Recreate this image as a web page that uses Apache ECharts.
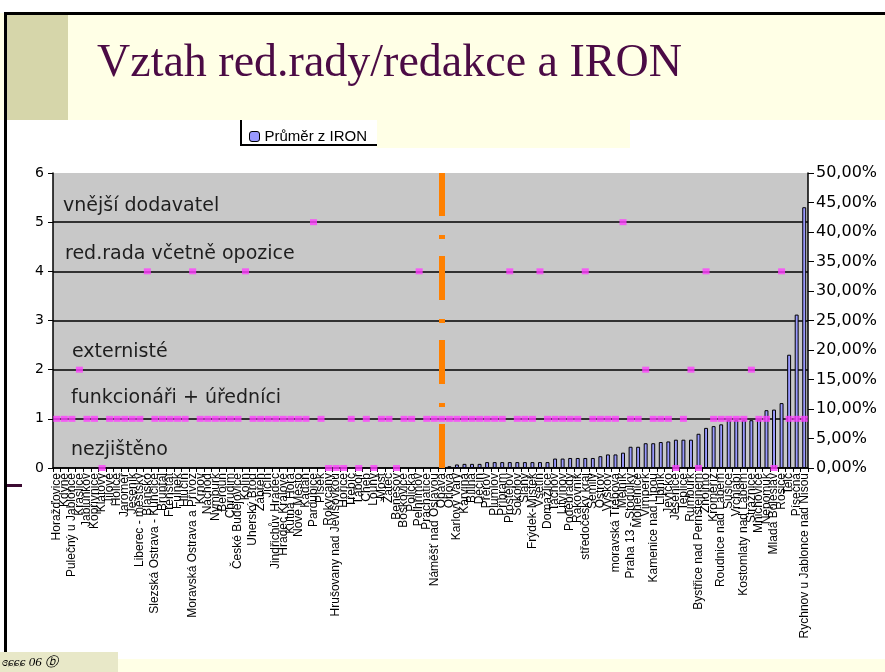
<!DOCTYPE html>
<html>
<head>
<meta charset="utf-8">
<script src="https://cdn.jsdelivr.net/npm/echarts@6/dist/echarts.min.js"></script>
<style>
html,body{margin:0;padding:0;background:#fff;}
#c{width:885px;height:672px;}
</style>
</head>
<body>
<div id="c"></div>
<script>
// ---- data ----
const categories = [
 "Horažďovice","Kdyně","Pulečný u Jablonce","Kraslice","Jablunkov","Kopřivnice","Klatovy","Jílové","Holice","Jaroměř",
 "Jeseník","Liberec - městský","Blansko","Slezská Ostrava - Kunčice","Bruntál","Frenštát","Fulnek","Hlučín","Moravská Ostrava a Přívoz","Krnov",
 "Náchod","Nymburk","Beroun","Chrudim","České Budějovice","Kolín","Uherský Brod","Zábřeh","Jičín","Jindřichův Hradec",
 "Hradec Králové","Kutná Hora","Nové Město","Kadaň","Pardubice","Písek","Rokycany","Hrušovany nad Jevišovkou","Hořice","Třebíč",
 "Tábor","Cheb","Louny","Most","Žatec","Benešov","Boskovice","Polička","Pelhřimov","Prachatice",
 "Náměšť nad Oslavou","Opava","Orlová","Karlovy Vary","Karviná","Bílina","Děčín","Přerov","Plumlov","Příbram",
 "Prostějov","Sokolov","Slaný","Frýdek-Místek","Vsetín","Domažlice","Tachov","Litvínov","Poděbrady","Rakovník",
 "středočeský kraj","Semily","Ostrov","Vyškov","moravská Třebová","Mělník","Praha 13 - Stodůlky","Mohelnice","Vimperk","Kamenice nad Lipou",
 "Lipník","Jevíčko","Jesenice","Teplice","Rumburk","Bystřice nad Pernštejnem","Znojmo","Kroměříž","Roudnice nad Labem","Sušice",
 "Vrchlabí","Kostomlaty nad Labem","Strážnice","Mnichovice","Nepomuk","Mladá Boleslav","Rosice","Telč","Písečná","Rychnov u Jablonce nad Nisou"
];
// average IRON (share) – first 52 towns have no value
const ironEmpty = 52;
const ironValues = [
 0.003,0.006,0.007,0.007,0.007,0.010,0.010,0.010,0.010,0.010,
 0.010,0.010,0.010,0.010,0.016,0.016,0.017,0.017,0.017,0.017,
 0.020,0.023,0.023,0.026,0.036,0.036,0.042,0.042,0.044,0.045,
 0.048,0.048,0.048,0.058,0.068,0.071,0.074,0.081,0.081,0.081,
 0.081,0.082,0.098,0.099,0.110,0.192,0.260,0.442
];
// editorial board type code (0..5)
const roleValues = [
 1,1,1,2,1,1,0,1,1,1, 1,1,4,1,1,1,1,1,4,1,
 1,1,1,1,1,4,1,1,1,1, 1,1,1,1,5,1,0,0,0,1,
 0,1,0,1,1,0,1,1,4,1, 1,1,1,1,1,1,1,1,1,1,
 4,1,1,1,4,1,1,1,1,1, 4,1,1,1,1,5,1,1,2,1,
 1,1,0,1,2,0,4,1,1,1, 1,1,2,1,1,0,4,1,1,1
];
const levelLabels = ["nezjištěno","funkcionáři + úředníci","externisté","red.rada včetně opozice","vnější dodavatel"];
const leftTicks = [0,1,2,3,4,5,6];
const rightTicks = [0,0.05,0.10,0.15,0.20,0.25,0.30,0.35,0.40,0.45,0.50];
const dividerCategory = categories[51];

const barData = categories.map((c,i)=> i<ironEmpty ? null : ironValues[i-ironEmpty]);

const chart = echarts.init(document.getElementById('c'), null, {renderer:'canvas'});
const annY = [460,408,362,264,216];
const annX = [71,71,72,65,63];

const graphics = [
  {type:'rect', z:-10, shape:{x:0,y:0,width:885,height:120}, style:{fill:'#ffffe6'}},
  {type:'rect', z:-9, shape:{x:7,y:13,width:61,height:107}, style:{fill:'#d6d6aa'}},
  {type:'rect', z:-9, shape:{x:0,y:0,width:885,height:13}, style:{fill:'#ffffff'}},
  {type:'rect', z:-8, shape:{x:4,y:12,width:881,height:3}, style:{fill:'#000'}},
  {type:'rect', z:-8, shape:{x:4,y:12,width:3,height:660}, style:{fill:'#000'}},
  {type:'rect', z:-9, shape:{x:377,y:120,width:253,height:28}, style:{fill:'#ffffe6'}},
  {type:'rect', z:-9, shape:{x:0,y:659,width:885,height:13}, style:{fill:'#ffffe6'}},
  {type:'rect', z:-8, shape:{x:0,y:652,width:118,height:20}, style:{fill:'#e8e8c8'}},
  {type:'rect', z:-8, shape:{x:7,y:484,width:15,height:3}, style:{fill:'#3c0a32'}},
  // legend box
  {type:'rect', z:-7, shape:{x:240,y:120,width:137,height:26}, style:{fill:'#fff'}},
  {type:'rect', z:50, shape:{x:240,y:120,width:2,height:26}, style:{fill:'#000'}},
  {type:'rect', z:50, shape:{x:240,y:144,width:137,height:2}, style:{fill:'#000'}},
  {type:'text', z:50, left:97, top:41, style:{text:'Vztah red.rady/redakce a IRON', font:'46px "Liberation Serif"', fill:'#4b0b45'}},
  {type:'text', z:50, left:2, top:656, style:{text:'ɞɕɕɕ 06 ⓑ', font:'italic 13px "Liberation Serif"', fill:'#000'}}
];
levelLabels.forEach((t,i)=>{
  graphics.push({type:'text', z:60, x:annX[i], y:annY[i], style:{text:t, font:'19px "DejaVu Sans"', fill:'#1e1e1e', textVerticalAlign:'bottom'}});
});

const option = {
  animation:false,
  backgroundColor:'#ffffff',
  graphic: graphics,
  legend:{
    data:['Průměr z IRON'], left:244, top:124, itemWidth:10, itemHeight:10, itemGap:4,
    textStyle:{fontFamily:'Liberation Sans', fontSize:15, color:'#000'},
    itemStyle:{borderColor:'#000', borderWidth:1}
  },
  grid:{left:53, right:77, top:173, bottom:204, show:true, backgroundColor:'#c8c8c8', borderWidth:0, containLabel:false},
  xAxis:{
    type:'category', data:categories, boundaryGap:true,
    axisLine:{show:true, lineStyle:{color:'#000', width:1.5}},
    axisTick:{show:true, interval:0, length:4, lineStyle:{color:'#000'}},
    axisLabel:{interval:0, rotate:90, fontFamily:'Liberation Sans', fontSize:12, color:'#000', margin:5},
    splitLine:{show:false}
  },
  yAxis:[
    {type:'value', position:'left', min:leftTicks[0], max:leftTicks[leftTicks.length-1], interval:1,
     axisLine:{show:true, lineStyle:{color:'#000', width:1.5}},
     axisTick:{show:true, length:5, lineStyle:{color:'#000'}},
     axisLabel:{fontFamily:'DejaVu Sans', fontSize:14, color:'#000', margin:9},
     splitLine:{show:true, lineStyle:{color:['#000','#000','#000','#000','#000','#000','rgba(0,0,0,0)'], width:1.6}}
    },
    {type:'value', position:'right', min:rightTicks[0], max:rightTicks[rightTicks.length-1], interval:0.05,
     axisLine:{show:true, lineStyle:{color:'#000', width:1.5}},
     axisTick:{show:true, length:6, lineStyle:{color:'#000'}},
     axisLabel:{fontFamily:'DejaVu Sans', fontSize:16, color:'#000', margin:8,
       formatter:v=> (v*100).toFixed(2).replace('.',',')+'%'},
     splitLine:{show:false}
    }
  ],
  series:[
    {type:'bar', name:'Průměr z IRON', yAxisIndex:1, data:barData, barWidth:'52%',
     itemStyle:{color:'#9999ff', borderColor:'#000', borderWidth:1},
     markLine:{silent:true, symbol:['none','none'], label:{show:false}, z:20,
       lineStyle:{color:'#ff8000', width:6, type:[44,17,4,19]},
       data:[{xAxis:dividerCategory}]}
    },
    {type:'scatter', name:'role', yAxisIndex:0, data:roleValues, symbol:'rect', symbolSize:[7,6],
     itemStyle:{color:'#ff40ff'}, z:5}
  ]
};
chart.setOption(option);
</script>
</body>
</html>
